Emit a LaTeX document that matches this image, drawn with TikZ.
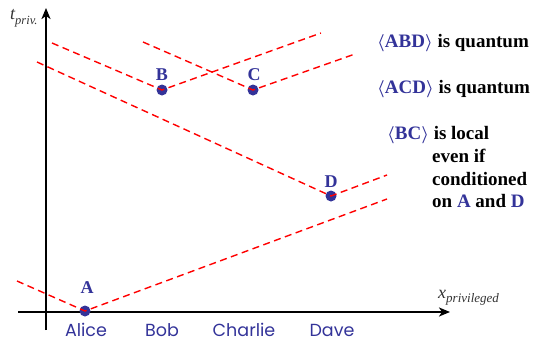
\documentclass[tikz,border=0pt]{standalone}
\usepackage{fontspec}
\setmainfont{Liberation Serif}
\newfontfamily\namefont{Poppins}
\usetikzlibrary{arrows.meta}
\definecolor{qblue}{RGB}{51,51,153}
\begin{document}
\begin{tikzpicture}[x=1pt,y=-1pt,
  axis/.style={line width=2.2pt,-{Stealth[length=11pt,width=9pt,inset=3pt]}},
  cone/.style={red,line width=1.4pt,dash pattern=on 7pt off 4.5pt},
  event/.style={circle,fill=qblue,inner sep=0pt,minimum size=11pt},
  evlabel/.style={text=qblue,anchor=base,font=\fontsize{18}{18}\selectfont\bfseries},
  who/.style={text=qblue,anchor=base,inner sep=0pt,font=\namefont\fontsize{17.5}{17.5}\selectfont},
  claim/.style={anchor=base west,inner sep=0pt,font=\fontsize{19}{19}\selectfont\bfseries\boldmath},
  axlabel/.style={anchor=base west,inner sep=0pt,text=black!80,font=\fontsize{18}{18}\selectfont\itshape}]
\useasboundingbox (0,0) rectangle (543,343);
% axes
\coordinate (ybot) at (46,330);
\coordinate (ytop) at (46,8);
\coordinate (xl) at (18,312);
\coordinate (xr) at (450,312);
\draw[axis] (ybot) -- (ytop);
\draw[axis] (xl) -- (xr);
\node[axlabel] (tl) at (10,19) {t\raisebox{-5pt}{\fontsize{12.5}{12.5}\selectfont priv.}};
\node[axlabel] (xlab) at (438,298) {x\raisebox{-4pt}{\fontsize{13}{13}\selectfont privileged}};
% events
\node[event] (A) at (85,311) {};
\node[event] (B) at (162,90) {};
\node[event] (C) at (253,90) {};
\node[event] (D) at (331,196) {};
\node[evlabel] (la) at (87,293) {A};
\node[evlabel] (lb) at (162,80) {B};
\node[evlabel] (lc) at (254,80) {C};
\node[evlabel] (ld) at (331,187) {D};
% light cones
\coordinate (a1) at (17,281); \coordinate (a2) at (387,199);
\coordinate (b1) at (52,43);  \coordinate (b2) at (321,33);
\coordinate (c1) at (143,42); \coordinate (c2) at (355,54);
\coordinate (d1) at (37,62);  \coordinate (d2) at (387,175);
\draw[cone] (a1) -- (A.center) -- (a2);
\draw[cone] (b1) -- (B.center) -- (b2);
\draw[cone] (c1) -- (C.center) -- (c2);
\draw[cone] (d1) -- (D.center) -- (d2);
% names
\node[who] (alice) at (86,336) {Alice};
\node[who] (bob) at (162,336) {Bob};
\node[who] (charlie) at (244,336) {Charlie};
\node[who] (dave) at (332,336) {Dave};
% claims
\node[claim] (t1) at (377,47) {\textcolor{qblue}{$\langle$ABD$\rangle$} is quantum};
\node[claim] (t2) at (377,93) {\textcolor{qblue}{$\langle$ACD$\rangle$} is quantum};
\node[claim] (t3) at (387,139) {\textcolor{qblue}{$\langle$BC$\rangle$} is local};
\node[claim] (t4) at (432,162) {even if};
\node[claim] (t5) at (432,185) {conditioned};
\node[claim] (t6) at (432,207) {on \textcolor{qblue}{A} and \textcolor{qblue}{D}};
\end{tikzpicture}
\end{document}
